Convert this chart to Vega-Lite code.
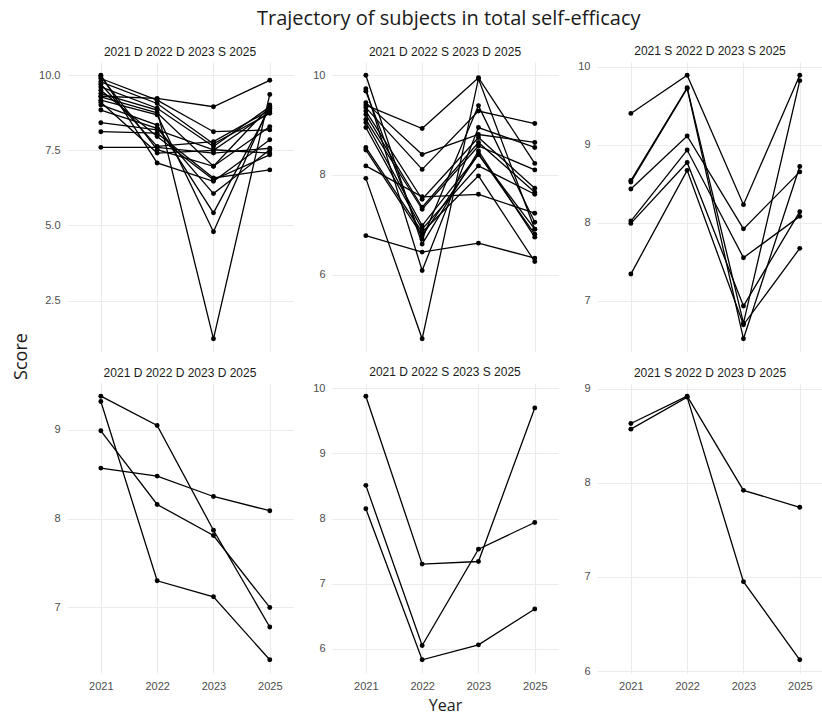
{
  "$schema": "https://vega.github.io/schema/vega-lite/v6.json",
  "background": "white",
  "padding": {"left": 12, "top": 8, "right": 0, "bottom": 0},
  "title": {"text": "Trajectory of subjects in total self-efficacy", "font": "Open Sans", "fontSize": 20, "fontWeight": "normal", "color": "#1a1a1a", "anchor": "middle", "offset": 16, "dx": 31},
  "datasets": {
    "d": [
      {"p":"A","id":"a1","year":"2021","score":9.30},{"p":"A","id":"a1","year":"2022","score":9.23},{"p":"A","id":"a1","year":"2023","score":8.95},{"p":"A","id":"a1","year":"2025","score":9.83},
      {"p":"A","id":"a2","year":"2021","score":10.0},{"p":"A","id":"a2","year":"2022","score":7.08},{"p":"A","id":"a2","year":"2023","score":6.47},{"p":"A","id":"a2","year":"2025","score":7.85},
      {"p":"A","id":"a3","year":"2021","score":7.60},{"p":"A","id":"a3","year":"2022","score":7.60},{"p":"A","id":"a3","year":"2023","score":7.41},{"p":"A","id":"a3","year":"2025","score":7.57},
      {"p":"A","id":"a4","year":"2021","score":9.89},{"p":"A","id":"a4","year":"2022","score":9.17},{"p":"A","id":"a4","year":"2023","score":8.12},{"p":"A","id":"a4","year":"2025","score":8.18},
      {"p":"A","id":"a5","year":"2021","score":9.78},{"p":"A","id":"a5","year":"2022","score":9.06},{"p":"A","id":"a5","year":"2023","score":7.72},{"p":"A","id":"a5","year":"2025","score":8.73},
      {"p":"A","id":"a6","year":"2021","score":9.61},{"p":"A","id":"a6","year":"2022","score":8.90},{"p":"A","id":"a6","year":"2023","score":7.63},{"p":"A","id":"a6","year":"2025","score":8.95},
      {"p":"A","id":"a7","year":"2021","score":9.39},{"p":"A","id":"a7","year":"2022","score":8.84},{"p":"A","id":"a7","year":"2023","score":1.23},{"p":"A","id":"a7","year":"2025","score":9.36},
      {"p":"A","id":"a8","year":"2021","score":9.28},{"p":"A","id":"a8","year":"2022","score":8.75},{"p":"A","id":"a8","year":"2023","score":6.97},{"p":"A","id":"a8","year":"2025","score":8.29},
      {"p":"A","id":"a9","year":"2021","score":9.17},{"p":"A","id":"a9","year":"2022","score":8.68},{"p":"A","id":"a9","year":"2023","score":4.79},{"p":"A","id":"a9","year":"2025","score":9.01},
      {"p":"A","id":"a10","year":"2021","score":9.01},{"p":"A","id":"a10","year":"2022","score":8.34},{"p":"A","id":"a10","year":"2023","score":5.42},{"p":"A","id":"a10","year":"2025","score":8.90},
      {"p":"A","id":"a11","year":"2021","score":8.84},{"p":"A","id":"a11","year":"2022","score":8.23},{"p":"A","id":"a11","year":"2023","score":6.06},{"p":"A","id":"a11","year":"2025","score":7.52},
      {"p":"A","id":"a12","year":"2021","score":8.42},{"p":"A","id":"a12","year":"2022","score":8.18},{"p":"A","id":"a12","year":"2023","score":7.52},{"p":"A","id":"a12","year":"2025","score":7.41},
      {"p":"A","id":"a13","year":"2021","score":8.12},{"p":"A","id":"a13","year":"2022","score":8.07},{"p":"A","id":"a13","year":"2023","score":6.58},{"p":"A","id":"a13","year":"2025","score":6.85},
      {"p":"A","id":"a14","year":"2021","score":9.50},{"p":"A","id":"a14","year":"2022","score":7.96},{"p":"A","id":"a14","year":"2023","score":6.52},{"p":"A","id":"a14","year":"2025","score":7.35},
      {"p":"A","id":"a15","year":"2021","score":9.70},{"p":"A","id":"a15","year":"2022","score":7.63},{"p":"A","id":"a15","year":"2023","score":7.79},{"p":"A","id":"a15","year":"2025","score":8.84},
      {"p":"A","id":"a16","year":"2021","score":9.10},{"p":"A","id":"a16","year":"2022","score":7.41},{"p":"A","id":"a16","year":"2023","score":7.50},{"p":"A","id":"a16","year":"2025","score":8.78},
      {"p":"A","id":"a17","year":"2021","score":9.95},{"p":"A","id":"a17","year":"2022","score":7.52},{"p":"A","id":"a17","year":"2023","score":6.97},{"p":"A","id":"a17","year":"2025","score":8.95},

      {"p":"B","id":"b1","year":"2021","score":9.40},{"p":"B","id":"b1","year":"2022","score":8.93},{"p":"B","id":"b1","year":"2023","score":9.95},{"p":"B","id":"b1","year":"2025","score":8.23},
      {"p":"B","id":"b2","year":"2021","score":7.93},{"p":"B","id":"b2","year":"2022","score":4.71},{"p":"B","id":"b2","year":"2023","score":9.93},{"p":"B","id":"b2","year":"2025","score":6.91},
      {"p":"B","id":"b3","year":"2021","score":6.78},{"p":"B","id":"b3","year":"2022","score":6.45},{"p":"B","id":"b3","year":"2023","score":6.63},{"p":"B","id":"b3","year":"2025","score":6.33},
      {"p":"B","id":"b4","year":"2021","score":8.18},{"p":"B","id":"b4","year":"2022","score":7.56},{"p":"B","id":"b4","year":"2023","score":7.61},{"p":"B","id":"b4","year":"2025","score":7.23},
      {"p":"B","id":"b5","year":"2021","score":10.0},{"p":"B","id":"b5","year":"2022","score":6.61},{"p":"B","id":"b5","year":"2023","score":8.48},{"p":"B","id":"b5","year":"2025","score":6.75},
      {"p":"B","id":"b6","year":"2021","score":9.73},{"p":"B","id":"b6","year":"2022","score":6.08},{"p":"B","id":"b6","year":"2023","score":8.95},{"p":"B","id":"b6","year":"2025","score":8.55},
      {"p":"B","id":"b7","year":"2021","score":9.68},{"p":"B","id":"b7","year":"2022","score":6.71},{"p":"B","id":"b7","year":"2023","score":9.39},{"p":"B","id":"b7","year":"2025","score":7.05},
      {"p":"B","id":"b8","year":"2021","score":9.45},{"p":"B","id":"b8","year":"2022","score":8.41},{"p":"B","id":"b8","year":"2023","score":8.81},{"p":"B","id":"b8","year":"2025","score":8.65},
      {"p":"B","id":"b9","year":"2021","score":9.35},{"p":"B","id":"b9","year":"2022","score":8.11},{"p":"B","id":"b9","year":"2023","score":9.28},{"p":"B","id":"b9","year":"2025","score":9.03},
      {"p":"B","id":"b10","year":"2021","score":9.28},{"p":"B","id":"b10","year":"2022","score":7.51},{"p":"B","id":"b10","year":"2023","score":8.75},{"p":"B","id":"b10","year":"2025","score":7.73},
      {"p":"B","id":"b11","year":"2021","score":9.21},{"p":"B","id":"b11","year":"2022","score":7.35},{"p":"B","id":"b11","year":"2023","score":8.65},{"p":"B","id":"b11","year":"2025","score":7.65},
      {"p":"B","id":"b12","year":"2021","score":9.11},{"p":"B","id":"b12","year":"2022","score":7.31},{"p":"B","id":"b12","year":"2023","score":8.58},{"p":"B","id":"b12","year":"2025","score":8.10},
      {"p":"B","id":"b13","year":"2021","score":9.05},{"p":"B","id":"b13","year":"2022","score":6.98},{"p":"B","id":"b13","year":"2023","score":8.41},{"p":"B","id":"b13","year":"2025","score":6.81},
      {"p":"B","id":"b14","year":"2021","score":8.95},{"p":"B","id":"b14","year":"2022","score":6.91},{"p":"B","id":"b14","year":"2023","score":8.18},{"p":"B","id":"b14","year":"2025","score":7.61},
      {"p":"B","id":"b15","year":"2021","score":8.55},{"p":"B","id":"b15","year":"2022","score":6.85},{"p":"B","id":"b15","year":"2023","score":7.98},{"p":"B","id":"b15","year":"2025","score":6.26},
      {"p":"B","id":"b16","year":"2021","score":8.50},{"p":"B","id":"b16","year":"2022","score":6.78},{"p":"B","id":"b16","year":"2023","score":8.41},{"p":"B","id":"b16","year":"2025","score":6.91},

      {"p":"C","id":"c1","year":"2021","score":9.40},{"p":"C","id":"c1","year":"2022","score":9.89},{"p":"C","id":"c1","year":"2023","score":8.23},{"p":"C","id":"c1","year":"2025","score":9.89},
      {"p":"C","id":"c2","year":"2021","score":8.54},{"p":"C","id":"c2","year":"2022","score":9.73},{"p":"C","id":"c2","year":"2023","score":6.71},{"p":"C","id":"c2","year":"2025","score":9.82},
      {"p":"C","id":"c3","year":"2021","score":8.52},{"p":"C","id":"c3","year":"2022","score":9.72},{"p":"C","id":"c3","year":"2023","score":6.51},{"p":"C","id":"c3","year":"2025","score":8.72},
      {"p":"C","id":"c4","year":"2021","score":8.43},{"p":"C","id":"c4","year":"2022","score":9.11},{"p":"C","id":"c4","year":"2023","score":7.92},{"p":"C","id":"c4","year":"2025","score":8.65},
      {"p":"C","id":"c5","year":"2021","score":8.02},{"p":"C","id":"c5","year":"2022","score":8.93},{"p":"C","id":"c5","year":"2023","score":7.55},{"p":"C","id":"c5","year":"2025","score":8.08},
      {"p":"C","id":"c6","year":"2021","score":7.99},{"p":"C","id":"c6","year":"2022","score":8.77},{"p":"C","id":"c6","year":"2023","score":6.93},{"p":"C","id":"c6","year":"2025","score":8.14},
      {"p":"C","id":"c7","year":"2021","score":7.34},{"p":"C","id":"c7","year":"2022","score":8.67},{"p":"C","id":"c7","year":"2023","score":6.69},{"p":"C","id":"c7","year":"2025","score":7.67},

      {"p":"D","id":"d1","year":"2021","score":9.38},{"p":"D","id":"d1","year":"2022","score":9.05},{"p":"D","id":"d1","year":"2023","score":7.87},{"p":"D","id":"d1","year":"2025","score":6.78},
      {"p":"D","id":"d2","year":"2021","score":9.32},{"p":"D","id":"d2","year":"2022","score":7.30},{"p":"D","id":"d2","year":"2023","score":7.12},{"p":"D","id":"d2","year":"2025","score":6.41},
      {"p":"D","id":"d3","year":"2021","score":8.99},{"p":"D","id":"d3","year":"2022","score":8.16},{"p":"D","id":"d3","year":"2023","score":7.81},{"p":"D","id":"d3","year":"2025","score":7.00},
      {"p":"D","id":"d4","year":"2021","score":8.57},{"p":"D","id":"d4","year":"2022","score":8.48},{"p":"D","id":"d4","year":"2023","score":8.25},{"p":"D","id":"d4","year":"2025","score":8.09},

      {"p":"E","id":"e1","year":"2021","score":9.88},{"p":"E","id":"e1","year":"2022","score":7.30},{"p":"E","id":"e1","year":"2023","score":7.34},{"p":"E","id":"e1","year":"2025","score":9.70},
      {"p":"E","id":"e2","year":"2021","score":8.51},{"p":"E","id":"e2","year":"2022","score":6.05},{"p":"E","id":"e2","year":"2023","score":7.53},{"p":"E","id":"e2","year":"2025","score":7.94},
      {"p":"E","id":"e3","year":"2021","score":8.15},{"p":"E","id":"e3","year":"2022","score":5.83},{"p":"E","id":"e3","year":"2023","score":6.06},{"p":"E","id":"e3","year":"2025","score":6.61},

      {"p":"F","id":"f1","year":"2021","score":8.63},{"p":"F","id":"f1","year":"2022","score":8.92},{"p":"F","id":"f1","year":"2023","score":7.92},{"p":"F","id":"f1","year":"2025","score":7.74},
      {"p":"F","id":"f2","year":"2021","score":8.57},{"p":"F","id":"f2","year":"2022","score":8.91},{"p":"F","id":"f2","year":"2023","score":6.95},{"p":"F","id":"f2","year":"2025","score":6.12}
    ]
  },
  "data": {"name": "d"},
  "columns": 3,
  "spacing": {"row": 31, "column": 39},
  "bounds": "flush",
  "concat": [
    {
      "title": "2021 D 2022 D 2023 S 2025",
      "width": 226, "height": 290,
      "transform": [{"filter": "datum.p == 'A'"}],
      "layer": [
        {"mark": {"type": "line", "color": "#000", "strokeWidth": 1.3},
         "encoding": {
           "x": {"field": "year", "type": "ordinal", "scale": {"type": "point", "padding": 0.507, "align": 0.593}, "axis": {"labels": false, "title": null}},
           "y": {"field": "score", "type": "quantitative", "scale": {"zero": false, "nice": false, "padding": 13.2}, "axis": {"values": [2.5, 5, 7.5, 10], "format": ".1f", "title": "Score", "titleFontSize": 18, "titleX": -45.5, "titleY": 294, "titleAngle": 270, "titleAlign": "center", "titleBaseline": "middle"}},
           "detail": {"field": "id"}}},
        {"mark": {"type": "circle", "color": "#000", "size": 24, "opacity": 1},
         "encoding": {
           "x": {"field": "year", "type": "ordinal"},
           "y": {"field": "score", "type": "quantitative", "axis": {"values": [1.25, 3.75, 6.25, 8.75], "orient": "right", "labels": false, "title": null, "gridWidth": 0.6}}}}
      ],
      "resolve": {"axis": {"y": "independent"}}
    },
    {
      "title": "2021 D 2022 S 2023 D 2025",
      "width": 226, "height": 290,
      "transform": [{"filter": "datum.p == 'B'"}],
      "layer": [
        {"mark": {"type": "line", "color": "#000", "strokeWidth": 1.3},
         "encoding": {
           "x": {"field": "year", "type": "ordinal", "scale": {"type": "point", "padding": 0.507, "align": 0.593}, "axis": {"labels": false, "title": null}},
           "y": {"field": "score", "type": "quantitative", "scale": {"zero": false, "nice": false, "padding": 13.2}, "axis": {"values": [6, 8, 10], "title": null}},
           "detail": {"field": "id"}}},
        {"mark": {"type": "circle", "color": "#000", "size": 24, "opacity": 1},
         "encoding": {
           "x": {"field": "year", "type": "ordinal"},
           "y": {"field": "score", "type": "quantitative", "axis": {"values": [5, 7, 9], "orient": "right", "labels": false, "title": null, "gridWidth": 0.6}}}}
      ],
      "resolve": {"axis": {"y": "independent"}}
    },
    {
      "title": "2021 S 2022 D 2023 S 2025",
      "width": 226, "height": 290,
      "transform": [{"filter": "datum.p == 'C'"}],
      "layer": [
        {"mark": {"type": "line", "color": "#000", "strokeWidth": 1.3},
         "encoding": {
           "x": {"field": "year", "type": "ordinal", "scale": {"type": "point", "padding": 0.507, "align": 0.593}, "axis": {"labels": false, "title": null}},
           "y": {"field": "score", "type": "quantitative", "scale": {"zero": false, "nice": false, "padding": 13.2}, "axis": {"values": [7, 8, 9, 10], "title": null}},
           "detail": {"field": "id"}}},
        {"mark": {"type": "circle", "color": "#000", "size": 24, "opacity": 1},
         "encoding": {
           "x": {"field": "year", "type": "ordinal"},
           "y": {"field": "score", "type": "quantitative", "axis": {"values": [6.5, 7.5, 8.5, 9.5], "orient": "right", "labels": false, "title": null, "gridWidth": 0.6}}}}
      ],
      "resolve": {"axis": {"y": "independent"}}
    },
    {
      "title": "2021 D 2022 D 2023 D 2025",
      "width": 226, "height": 290,
      "transform": [{"filter": "datum.p == 'D'"}],
      "layer": [
        {"mark": {"type": "line", "color": "#000", "strokeWidth": 1.3},
         "encoding": {
           "x": {"field": "year", "type": "ordinal", "scale": {"type": "point", "padding": 0.507, "align": 0.593}, "axis": {"title": null}},
           "y": {"field": "score", "type": "quantitative", "scale": {"zero": false, "nice": false, "padding": 13.2}, "axis": {"values": [7, 8, 9], "title": null}},
           "detail": {"field": "id"}}},
        {"mark": {"type": "circle", "color": "#000", "size": 24, "opacity": 1},
         "encoding": {
           "x": {"field": "year", "type": "ordinal"},
           "y": {"field": "score", "type": "quantitative", "axis": {"values": [6.5, 7.5, 8.5, 9.5], "orient": "right", "labels": false, "title": null, "gridWidth": 0.6}}}}
      ],
      "resolve": {"axis": {"y": "independent"}}
    },
    {
      "title": "2021 D 2022 S 2023 S 2025",
      "width": 226, "height": 290,
      "transform": [{"filter": "datum.p == 'E'"}],
      "layer": [
        {"mark": {"type": "line", "color": "#000", "strokeWidth": 1.3},
         "encoding": {
           "x": {"field": "year", "type": "ordinal", "scale": {"type": "point", "padding": 0.507, "align": 0.593}, "axis": {"title": "Year", "titlePadding": 6}},
           "y": {"field": "score", "type": "quantitative", "scale": {"zero": false, "nice": false, "padding": 13.2}, "axis": {"values": [6, 7, 8, 9, 10], "title": null}},
           "detail": {"field": "id"}}},
        {"mark": {"type": "circle", "color": "#000", "size": 24, "opacity": 1},
         "encoding": {
           "x": {"field": "year", "type": "ordinal"},
           "y": {"field": "score", "type": "quantitative", "axis": {"values": [6.5, 7.5, 8.5, 9.5], "orient": "right", "labels": false, "title": null, "gridWidth": 0.6}}}}
      ],
      "resolve": {"axis": {"y": "independent"}}
    },
    {
      "title": "2021 S 2022 D 2023 D 2025",
      "width": 226, "height": 290,
      "transform": [{"filter": "datum.p == 'F'"}],
      "layer": [
        {"mark": {"type": "line", "color": "#000", "strokeWidth": 1.3},
         "encoding": {
           "x": {"field": "year", "type": "ordinal", "scale": {"type": "point", "padding": 0.507, "align": 0.593}, "axis": {"title": null}},
           "y": {"field": "score", "type": "quantitative", "scale": {"zero": false, "nice": false, "padding": 13.2}, "axis": {"values": [6, 7, 8, 9], "title": null}},
           "detail": {"field": "id"}}},
        {"mark": {"type": "circle", "color": "#000", "size": 24, "opacity": 1},
         "encoding": {
           "x": {"field": "year", "type": "ordinal"},
           "y": {"field": "score", "type": "quantitative", "axis": {"values": [6.5, 7.5, 8.5], "orient": "right", "labels": false, "title": null, "gridWidth": 0.6}}}}
      ],
      "resolve": {"axis": {"y": "independent"}}
    }
  ],
  "config": {
    "view": {"stroke": null},
    "title": {"font": "Liberation Sans", "fontSize": 12, "fontWeight": "normal", "color": "#1a1a1a", "anchor": "middle", "offset": 3},
    "axis": {"domain": false, "ticks": false, "tickSize": 0, "grid": true, "gridColor": "#ebebeb", "gridWidth": 1.1, "labelFont": "Liberation Sans", "labelFontSize": 11, "labelColor": "#4d4d4d", "labelPadding": 7, "labelAngle": 0, "titleFont": "Open Sans", "titleFontSize": 16, "titleFontWeight": "normal", "titleColor": "#1a1a1a"}
  }
}
